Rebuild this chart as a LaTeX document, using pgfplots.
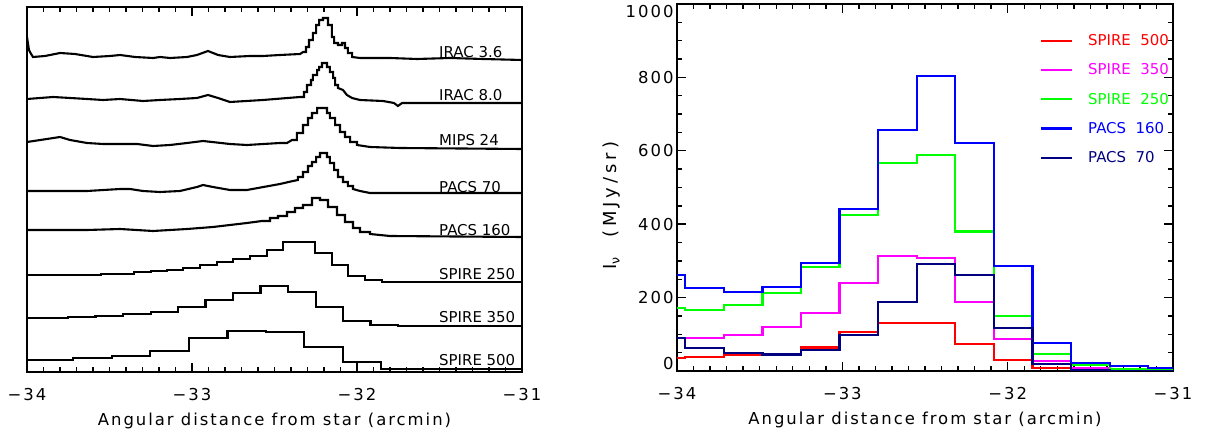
\documentclass[border=0pt]{standalone}
\usepackage{fontspec}
\setmainfont{DejaVu Sans}
\newfontfamily\labfont[LetterSpace=12]{DejaVu Sans}
\newfontfamily\ylabfont[LetterSpace=22]{DejaVu Sans}
\usepackage{pgfplots}
\pgfplotsset{compat=1.18}
\definecolor{navyc}{RGB}{0,0,128}
\definecolor{grn}{RGB}{0,255,0}
\definecolor{mag}{RGB}{255,0,255}
\definecolor{blu}{RGB}{0,0,255}
\definecolor{rd}{RGB}{255,0,0}
\pgfplotsset{
 myax/.style={
  scale only axis,
  axis line style={line width=1.8bp},
  every tick/.style={line width=1.4bp, black},
  major tick length=9bp, minor tick length=5bp,
  tick align=inside, tick pos=both,
  xmin=-34, xmax=-31,
  xtick={-34,-33,-32,-31},
  xticklabels={−34,−33,−32,−31},
  minor x tick num=9,
  ticklabel style={font=\labfont\fontsize{16.5}{18}\selectfont},
  xticklabel style={anchor=base, yshift=-28bp},
  xlabel={Angular distance from star (arcmin)},
  xlabel style={font=\labfont\fontsize{16.5}{18}\selectfont, at={(axis description cs:0.5,0)}, anchor=base, yshift=-53bp},
 },
 lp/.style={black, line width=2.1bp, line join=miter},
 rp/.style={const plot mark left, line width=2.1bp, line join=miter},
}
\begin{document}
\begin{tikzpicture}
\useasboundingbox (0bp,0bp) rectangle (1207bp,436bp);
% ---------------- left panel ----------------
\begin{axis}[myax, at={(27bp,64bp)}, anchor=south west, width=495bp, height=365bp,
  ymin=0, ymax=365, ytick=\empty]
% IRAC 3.6
\addplot[lp] coordinates {(-34.000,335) (-33.988,322) (-33.982,320) (-33.964,315) (-33.891,316) (-33.800,319) (-33.709,318) (-33.600,315) (-33.497,316) (-33.436,317) (-33.345,315) (-33.236,314) (-33.194,315) (-33.133,314) (-33.030,315) (-32.970,317) (-32.903,321) (-32.842,317) (-32.770,315) (-32.648,316) (-32.570,316) (-32.467,317) (-32.345,318) (-32.327,320) (-32.309,320) (-32.309,325) (-32.291,325) (-32.291,332) (-32.267,332) (-32.267,339) (-32.248,339) (-32.248,347) (-32.230,347) (-32.230,352) (-32.206,352) (-32.206,354) (-32.176,354) (-32.176,347) (-32.152,347) (-32.152,335) (-32.139,335) (-32.139,329) (-32.115,329) (-32.115,327) (-32.091,327) (-32.091,329) (-32.073,329) (-32.073,324) (-32.055,324) (-32.055,319) (-32.030,319) (-32.030,315) (-31.982,314) (-31.800,314) (-31.636,313) (-31.436,314) (-31.236,313) (-31.000,312)};
% IRAC 8.0
\addplot[lp] coordinates {(-34.000,273) (-33.842,275) (-33.739,274) (-33.636,273) (-33.539,272) (-33.436,273) (-33.297,271) (-33.194,272) (-33.073,273) (-32.970,274) (-32.903,277) (-32.842,274) (-32.770,270) (-32.570,272) (-32.345,275) (-32.321,275) (-32.321,280) (-32.303,280) (-32.303,287) (-32.279,287) (-32.279,292) (-32.267,292) (-32.267,297) (-32.242,297) (-32.242,302) (-32.230,302) (-32.230,305) (-32.212,305) (-32.212,309) (-32.182,309) (-32.182,305) (-32.164,305) (-32.164,300) (-32.145,300) (-32.145,294) (-32.133,294) (-32.133,287) (-32.115,287) (-32.115,284) (-32.085,282) (-32.061,277) (-32.030,274) (-31.982,272) (-31.842,271) (-31.776,269) (-31.752,266) (-31.727,269) (-31.636,269) (-31.436,269) (-31.000,269)};
% MIPS 24
\addplot[lp] coordinates {(-34.000,230) (-33.879,233) (-33.800,235) (-33.739,232) (-33.636,229) (-33.539,228) (-33.333,228) (-33.236,226) (-33.133,227) (-33.030,229) (-32.933,231) (-32.770,228) (-32.667,227) (-32.467,229) (-32.424,229) (-32.394,232) (-32.364,232) (-32.364,239) (-32.327,239) (-32.327,247) (-32.297,247) (-32.297,254) (-32.273,254) (-32.273,259) (-32.242,259) (-32.242,264) (-32.182,264) (-32.182,259) (-32.164,259) (-32.164,254) (-32.133,254) (-32.133,247) (-32.103,247) (-32.103,240) (-32.073,240) (-32.073,235) (-32.042,235) (-32.042,230) (-32.000,230) (-32.000,227) (-31.921,225) (-31.739,224) (-31.000,223)};
% PACS 70
\addplot[lp] coordinates {(-34.000,181) (-33.842,181) (-33.636,181) (-33.436,183) (-33.376,183) (-33.297,181) (-33.194,180) (-33.073,181) (-32.970,185) (-32.933,187) (-32.873,185) (-32.770,182) (-32.667,182) (-32.467,188) (-32.388,191) (-32.358,192) (-32.358,195) (-32.327,195) (-32.327,200) (-32.297,200) (-32.297,206) (-32.273,206) (-32.273,210) (-32.248,210) (-32.248,215) (-32.224,215) (-32.224,219) (-32.182,219) (-32.182,215) (-32.164,215) (-32.164,209) (-32.139,209) (-32.139,202) (-32.115,202) (-32.115,195) (-32.085,195) (-32.085,190) (-32.055,190) (-32.055,186) (-32.024,186) (-32.024,183) (-31.982,181) (-31.921,179) (-31.000,179)};
% PACS 160
\addplot[lp] coordinates {(-34.000,142) (-33.636,142) (-33.436,143) (-33.236,141) (-33.030,143) (-32.873,145) (-32.667,149) (-32.576,151) (-32.527,151) (-32.527,154) (-32.479,154) (-32.479,156) (-32.424,156) (-32.424,160) (-32.376,160) (-32.376,164) (-32.327,164) (-32.327,167) (-32.273,167) (-32.273,174) (-32.224,174) (-32.224,172) (-32.176,172) (-32.176,165) (-32.121,165) (-32.121,157) (-32.073,157) (-32.073,150) (-32.024,150) (-32.024,144) (-31.982,144) (-31.982,140) (-31.921,140) (-31.921,138) (-31.800,136) (-31.000,135)};
% SPIRE 250
\addplot[lp, const plot mark left] coordinates {(-34.000,97) (-33.550,98) (-33.350,100) (-33.250,101) (-33.152,102) (-33.055,104) (-32.952,107) (-32.848,110) (-32.752,113) (-32.648,116) (-32.545,122) (-32.448,130) (-32.255,119) (-32.152,107) (-32.055,96) (-31.952,92) (-31.848,90) (-31.000,90)};
% SPIRE 350
\addplot[lp, const plot mark left] coordinates {(-34.000,54) (-33.751,55) (-33.585,56) (-33.418,58) (-33.251,60) (-33.085,65) (-32.918,72) (-32.751,79) (-32.585,86) (-32.418,80) (-32.251,65) (-32.085,51) (-31.918,47) (-31.751,46) (-31.000,46)};
% SPIRE 500
\addplot[lp, const plot mark left] coordinates {(-34.000,12) (-33.719,14) (-33.485,16) (-33.252,21) (-33.019,34) (-32.785,41) (-32.552,40) (-32.319,25) (-32.085,10) (-31.852,3) (-31.000,3)};
\begin{scope}[every node/.style={anchor=west, inner sep=0pt, font=\fontsize{15}{17}\selectfont}]
\node at (axis cs:-31.503,320) {IRAC 3.6};
\node at (axis cs:-31.503,277) {IRAC 8.0};
\node at (axis cs:-31.503,232) {MIPS 24};
\node at (axis cs:-31.503,185) {PACS 70};
\node at (axis cs:-31.503,142) {PACS 160};
\node at (axis cs:-31.503,98) {SPIRE 250};
\node at (axis cs:-31.503,55) {SPIRE 350};
\node at (axis cs:-31.503,12) {SPIRE 500};
\end{scope}
\end{axis}
% ---------------- right panel ----------------
\begin{axis}[myax, at={(677bp,65bp)}, anchor=south west, width=496bp, height=367bp,
  ymin=0, ymax=1000, ytick={0,200,400,600,800,1000},
  yticklabels={\raisebox{7bp}[\height][\depth]{0},200,400,600,800,\raisebox{-8bp}[\height][\depth]{1000}},
  minor ytick={0,50,...,1000},
  ylabel={I\textsubscript{ν}\ \ (MJy/sr)},
  ylabel style={font=\ylabfont\fontsize{18}{20}\selectfont, at={(axis description cs:-0.121,0.45)}, anchor=base},
  legend style={at={(0.732,0.922)}, anchor=north west, draw=none, fill=none, inner sep=0pt, outer sep=0pt,
     font=\fontsize{15}{17}\selectfont, row sep=12.6bp, column sep=13bp, nodes={inner sep=2bp}},
  legend cell align=left,
  legend image code/.code={\draw[#1] (0bp,0bp) -- (31bp,0bp);},
]
\addplot[rp, rd] coordinates {(-34.000,36) (-33.950,38) (-33.717,44) (-33.483,46) (-33.250,64) (-33.017,107) (-32.783,132) (-32.550,130) (-32.317,73) (-32.083,30) (-31.850,9) (-31.617,4) (-31.383,2) (-31.150,1) (-31.000,1)};
\addlegendentry{\textcolor{rd}{SPIRE\ \ 500}}
\addplot[rp, mag] coordinates {(-34.000,91) (-33.950,91) (-33.717,98) (-33.483,121) (-33.250,157) (-33.017,239) (-32.783,314) (-32.550,309) (-32.317,189) (-32.083,86) (-31.850,27) (-31.617,7) (-31.383,3) (-31.150,2) (-31.000,2)};
\addlegendentry{\textcolor{mag}{SPIRE\ \ 350}}
\addplot[rp, grn] coordinates {(-34.000,171) (-33.950,166) (-33.717,179) (-33.483,212) (-33.250,283) (-33.017,424) (-32.783,566) (-32.550,588) (-32.317,380) (-32.083,151) (-31.850,46) (-31.617,16) (-31.383,5) (-31.150,3) (-31.000,3)};
\addlegendentry{\textcolor{grn}{SPIRE\ \ 250}}
\addplot[rp, blu] coordinates {(-34.000,262) (-33.950,226) (-33.717,215) (-33.483,228) (-33.250,295) (-33.017,442) (-32.783,657) (-32.550,803) (-32.317,621) (-32.083,286) (-31.850,77) (-31.617,21) (-31.383,14) (-31.150,9) (-31.000,9)};
\addlegendentry{\textcolor{blu}{PACS\ \ 160}}
\addplot[rp, navyc] coordinates {(-34.000,91) (-33.950,62) (-33.717,48) (-33.483,45) (-33.250,57) (-33.017,98) (-32.783,189) (-32.550,292) (-32.317,262) (-32.083,118) (-31.850,18) (-31.617,2) (-31.383,1) (-31.150,1) (-31.000,1)};
\addlegendentry{\textcolor{navyc}{PACS\ \ 70}}
\end{axis}
\end{tikzpicture}
\end{document}
